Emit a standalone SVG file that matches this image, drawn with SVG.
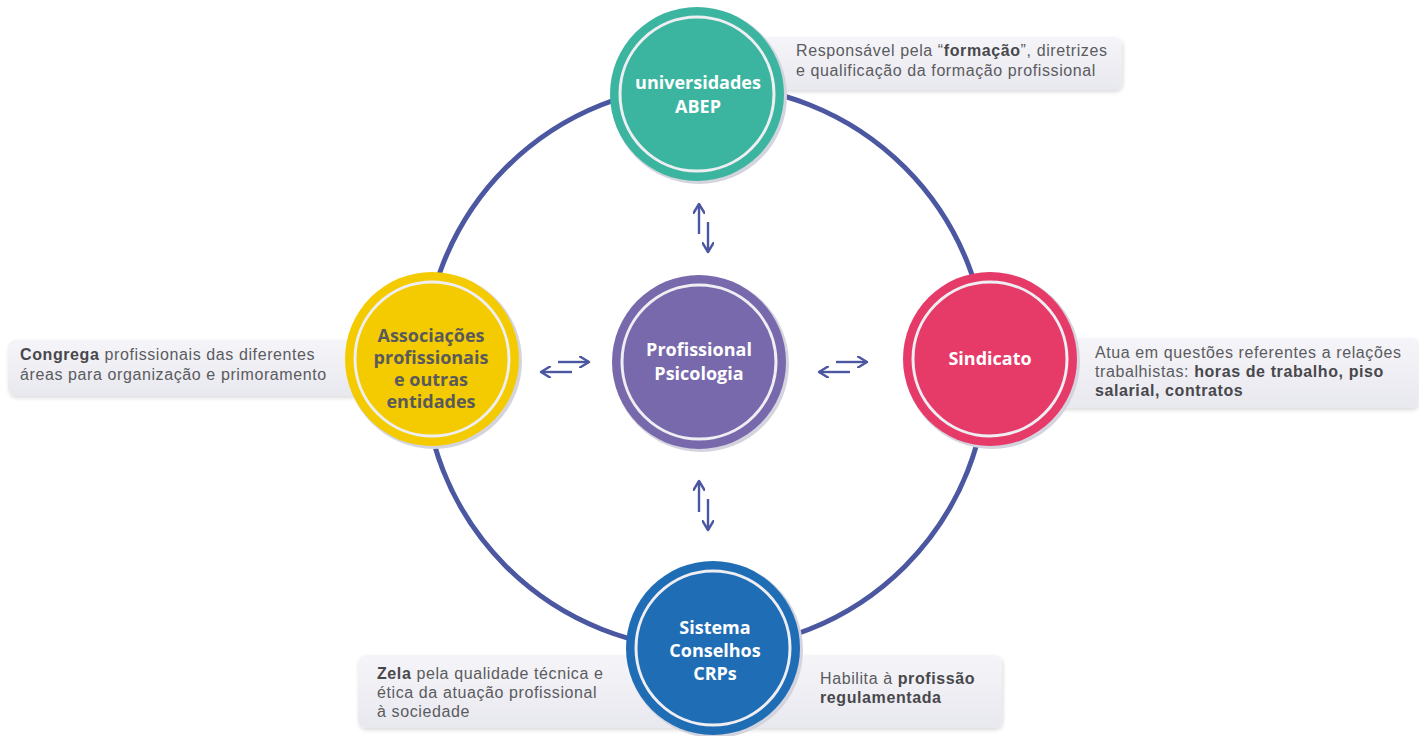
<svg xmlns="http://www.w3.org/2000/svg" width="1419" height="736" viewBox="0 0 1419 736">
<defs>
<linearGradient id="boxg" x1="0" y1="0" x2="0" y2="1">
<stop offset="0" stop-color="#f5f5f9"/>
<stop offset="1" stop-color="#e8e8ef"/>
</linearGradient>
<filter id="sh" x="-10%" y="-30%" width="120%" height="170%">
<feGaussianBlur in="SourceAlpha" stdDeviation="2"/>
<feOffset dx="1" dy="2" result="b"/>
<feComponentTransfer><feFuncA type="linear" slope="0.15"/></feComponentTransfer>
<feMerge><feMergeNode/><feMergeNode in="SourceGraphic"/></feMerge>
</filter>
<marker id="ah" viewBox="0 0 12 12" refX="10" refY="6" markerWidth="12" markerHeight="12" markerUnits="userSpaceOnUse" orient="auto">
<path d="M1,0.5 L10,6 L1,11.5" fill="none" stroke="#4b57a0" stroke-width="2.4" stroke-linecap="round" stroke-linejoin="round"/>
</marker>
</defs>
<style>
.box{fill:url(#boxg);filter:url(#sh)}
.lbl{font-family:"Liberation Sans",Arial,sans-serif;font-size:16px;letter-spacing:0.6px;fill:#5b5b60}
.lbl tspan.b{font-weight:bold;fill:#48484c}
.nt{font-family:"Open Sans","Liberation Sans",sans-serif;font-size:18px;font-weight:bold;fill:#ffffff;text-anchor:middle}
.nt.dark{fill:#5a5a5c}
.rim{fill:#d4d4de}
.ring{fill:none;stroke:#eeeef3;stroke-width:3}
.conn{fill:none;stroke:#4b57a0;stroke-width:2.4;marker-end:url(#ah)}
</style>
<rect width="1419" height="736" fill="#ffffff"/>

<g id="connectors">
<circle cx="705.5" cy="367" r="282" fill="none" stroke="#4b57a0" stroke-width="5"/>
<line class="conn" x1="699" y1="234" x2="699" y2="204"/>
<line class="conn" x1="708" y1="222" x2="708" y2="252"/>
<line class="conn" x1="699" y1="512" x2="699" y2="481"/>
<line class="conn" x1="708" y1="499" x2="708" y2="530"/>
<line class="conn" x1="558" y1="362" x2="589" y2="362"/>
<line class="conn" x1="572" y1="372" x2="541" y2="372"/>
<line class="conn" x1="836" y1="362" x2="867" y2="362"/>
<line class="conn" x1="850" y1="372" x2="819" y2="372"/>
</g>

<g id="label-top">
<rect class="box" x="720" y="37" width="402" height="53" rx="8"/>
<text class="lbl" x="796" y="56">Responsável pela “<tspan class="b">formação</tspan>”, diretrizes</text>
<text class="lbl" x="796" y="76">e qualificação da formação profissional</text>
</g>
<g id="label-left">
<rect class="box" x="8" y="340" width="400" height="56" rx="8"/>
<text class="lbl" x="20" y="360"><tspan class="b">Congrega</tspan> profissionais das diferentes</text>
<text class="lbl" x="20" y="380">áreas para organização e primoramento</text>
</g>
<g id="label-right">
<rect class="box" x="1010" y="338" width="409" height="70" rx="8"/>
<text class="lbl" x="1095" y="358">Atua em questões referentes a relações</text>
<text class="lbl" x="1095" y="377">trabalhistas: <tspan class="b">horas de trabalho, piso</tspan></text>
<text class="lbl" x="1095" y="396"><tspan class="b">salarial, contratos</tspan></text>
</g>
<g id="label-bottom">
<rect class="box" x="358" y="655" width="644" height="73" rx="8"/>
<text class="lbl" x="377" y="679"><tspan class="b">Zela</tspan> pela qualidade técnica e</text>
<text class="lbl" x="377" y="698">ética da atuação profissional</text>
<text class="lbl" x="377" y="717">à sociedade</text>
<text class="lbl" x="820" y="684">Habilita à <tspan class="b">profissão</tspan></text>
<text class="lbl" x="820" y="703"><tspan class="b">regulamentada</tspan></text>
</g>

<g id="node-universidades">
<circle class="rim" cx="699" cy="96" r="88"/>
<circle cx="697" cy="94" r="87" fill="#3bb59f"/>
<circle class="ring" cx="697" cy="94" r="77"/>
<text class="nt" x="698" y="89">universidades</text>
<text class="nt" x="698" y="113">ABEP</text>
</g>
<g id="node-profissional">
<circle class="rim" cx="701" cy="364" r="88"/>
<circle cx="699" cy="362" r="87" fill="#7868ac"/>
<circle class="ring" cx="699" cy="362" r="77"/>
<text class="nt" x="699" y="356">Profissional</text>
<text class="nt" x="699" y="380">Psicologia</text>
</g>
<g id="node-associacoes">
<circle class="rim" cx="434" cy="361" r="88"/>
<circle cx="432" cy="359" r="87" fill="#f4cb00"/>
<circle class="ring" cx="432" cy="359" r="77"/>
<text class="nt dark" x="431" y="342">Associações</text>
<text class="nt dark" x="431" y="364">profissionais</text>
<text class="nt dark" x="431" y="386">e outras</text>
<text class="nt dark" x="431" y="408">entidades</text>
</g>
<g id="node-sindicato">
<circle class="rim" cx="992" cy="361" r="88"/>
<circle cx="990" cy="359" r="87" fill="#e63b68"/>
<circle class="ring" cx="990" cy="359" r="77"/>
<text class="nt" x="990" y="365">Sindicato</text>
</g>
<g id="node-crps">
<circle class="rim" cx="715" cy="650" r="88"/>
<circle cx="713" cy="648" r="87" fill="#1f6db5"/>
<circle class="ring" cx="713" cy="648" r="77"/>
<text class="nt" x="715" y="634">Sistema</text>
<text class="nt" x="715" y="657">Conselhos</text>
<text class="nt" x="715" y="680">CRPs</text>
</g>
</svg>
